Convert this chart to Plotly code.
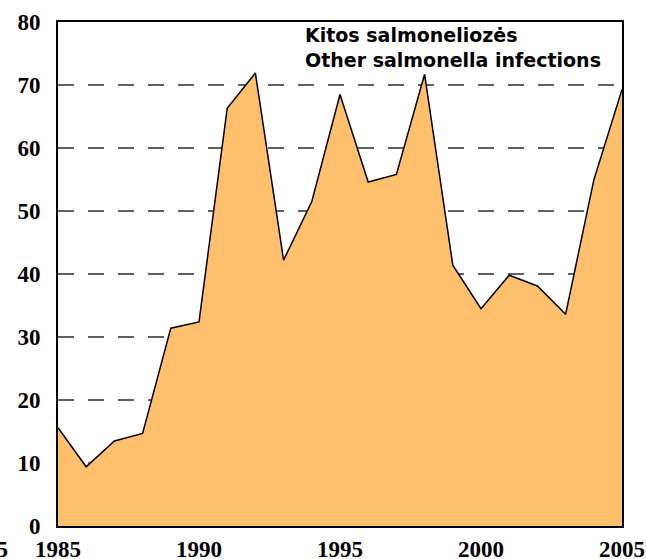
import plotly.graph_objects as go

years = list(range(1985, 2006))
cases = [15.6, 9.4, 13.5, 14.7, 31.4, 32.4, 66.3, 71.9, 42.2, 51.5, 68.5,
         54.6, 55.8, 71.7, 41.4, 34.5, 39.8, 38.1, 33.6, 54.9, 69.3]
x_ticks = [1985, 1990, 1995, 2000, 2005]
y_ticks = [0, 10, 20, 30, 40, 50, 60, 70, 80]
title_lines = ["Kitos salmoneliozės", "Other salmonella infections"]

fig = go.Figure()
fig.add_trace(go.Scatter(
    x=years, y=cases, mode="lines", fill="tozeroy",
    fillcolor="#FFC06E", line=dict(color="black", width=1.5),
    showlegend=False, hoverinfo="skip",
))

tick_font = dict(family="Liberation Serif", size=23, color="black", weight="bold")

fig.update_layout(
    width=646, height=559,
    margin=dict(l=58, r=24, t=22, b=33, autoexpand=False),
    paper_bgcolor="white", plot_bgcolor="white",
    xaxis=dict(
        range=[1985, 2005], tickvals=x_ticks, ticktext=[str(v) for v in x_ticks],
        showgrid=False, zeroline=False, showline=True, linecolor="black",
        linewidth=2, mirror=True, ticks="", tickfont=tick_font,
        ticklabelstandoff=1, automargin=False,
    ),
    yaxis=dict(
        range=[0, 80], tickvals=y_ticks, ticktext=[str(v) for v in y_ticks],
        showgrid=True, gridcolor="#606060", gridwidth=1.5, griddash="16px,14px",
        zeroline=False, showline=True, linecolor="black", linewidth=2,
        mirror=True, ticks="", tickfont=tick_font, ticklabelstandoff=11,
        automargin=False,
    ),
    annotations=[
        dict(
            text="<br>".join(title_lines), xref="paper", yref="paper",
            x=(303 - 58) / 564, y=1, xanchor="left", yanchor="top",
            align="left", showarrow=False,
            font=dict(family="DejaVu Sans", size=19, color="black", weight="bold"),
        ),
        dict(
            text=str(x_ticks[0]), xref="paper", yref="paper",
            x=(10 - 58) / 564, y=-23 / 504, xanchor="right", yanchor="middle",
            showarrow=False, font=tick_font,
        ),
    ],
)

fig.write_html(
    "out.html",
    config={"displayModeBar": False, "staticPlot": True},
    post_script="document.body.style.margin='0';document.body.style.overflow='hidden';",
)
